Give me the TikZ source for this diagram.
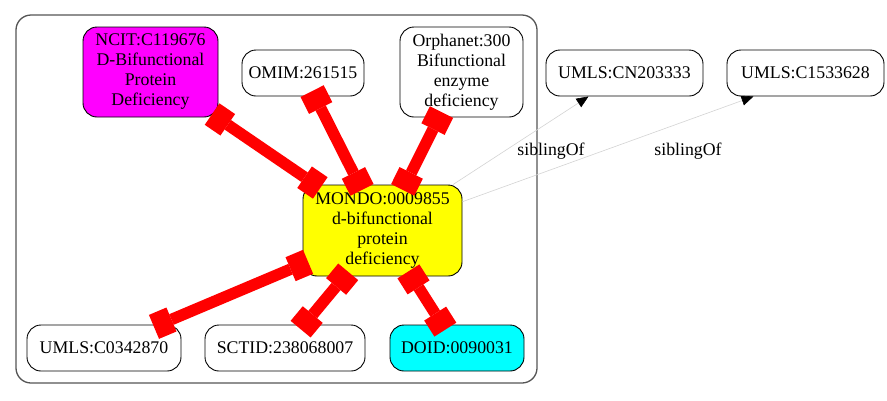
\documentclass[tikz,border=0pt]{standalone}
\usepackage{fontspec}
\setmainfont{Liberation Serif}
\usetikzlibrary{arrows.meta}
\definecolor{clus}{HTML}{555555}
\definecolor{edgegray}{HTML}{D3D3D3}
\definecolor{gvmagenta}{RGB}{255,0,255}
\definecolor{gvcyan}{RGB}{0,255,255}
\definecolor{gvyellow}{RGB}{255,255,0}
\definecolor{gvred}{RGB}{255,0,0}
\begin{document}
\begin{tikzpicture}[x=1pt,y=-1pt,
  term/.style={draw=black, line width=0.9pt, rounded corners=14pt, align=center, inner sep=0pt,
    font=\fontsize{17.8}{20}\selectfont},
  small/.style={term, minimum height=46pt},
  big/.style={term, minimum height=90pt},
  xref/.style={draw=gvred, line width=11.5pt, shorten <=-6pt, shorten >=-6pt,
    {Rectangle[length=19pt,width=26pt,line width=0pt]}-{Rectangle[length=19pt,width=26pt,line width=0pt]}},
  sib/.style={draw=edgegray, line width=0.6pt, -{Triangle[length=12pt,width=10pt,color=black]}},
  lbl/.style={font=\fontsize{17.8}{20}\selectfont, inner sep=0pt}
]
\useasboundingbox (0,0) rectangle (887,400);
% cluster
\draw[clus, line width=1.3pt, rounded corners=15pt] (16,15) rectangle (537,383);
% nodes
\node[big, fill=gvmagenta, minimum width=135pt] (ncit) at (150.5,72) {NCIT:C119676\\D-Bifunctional\\Protein\\Deficiency};
\node[small, fill=white, minimum width=122pt] (omim) at (303,73) {OMIM:261515};
\node[big, fill=white, minimum width=123pt] (orpha) at (461.5,72) {Orphanet:300\\Bifunctional\\enzyme\\deficiency};
\node[term, fill=gvyellow, minimum width=159pt, minimum height=91pt] (mondo) at (382.5,230.5) {MONDO:0009855\\d-bifunctional\\protein\\deficiency};
\node[small, fill=white, minimum width=154pt] (umlsa) at (104,348) {UMLS:C0342870};
\node[small, fill=white, minimum width=160pt] (sctid) at (285,348) {SCTID:238068007};
\node[small, fill=gvcyan, minimum width=134pt] (doid) at (457,348) {DOID:0090031};
\node[small, fill=white, minimum width=157pt] (umlsb) at (624.5,73) {UMLS:CN203333};
\node[small, fill=white, minimum width=157pt] (umlsc) at (805.5,73) {UMLS:C1533628};
% xref edges
\draw[xref] (ncit) -- (mondo);
\draw[xref] (omim) -- (mondo);
\draw[xref] (orpha) -- (mondo);
\draw[xref] (mondo) -- (umlsa);
\draw[xref] (mondo) -- (sctid);
\draw[xref] (mondo) -- (doid);
% sibling edges
\draw[sib] (mondo) -- ([xshift=-36pt]umlsb.south);
\draw[sib] (mondo) -- ([xshift=-52pt]umlsc.south);
\node[lbl] (sl1) at (551,151) {siblingOf};
\node[lbl] (sl2) at (688,151) {siblingOf};
\end{tikzpicture}
\end{document}
